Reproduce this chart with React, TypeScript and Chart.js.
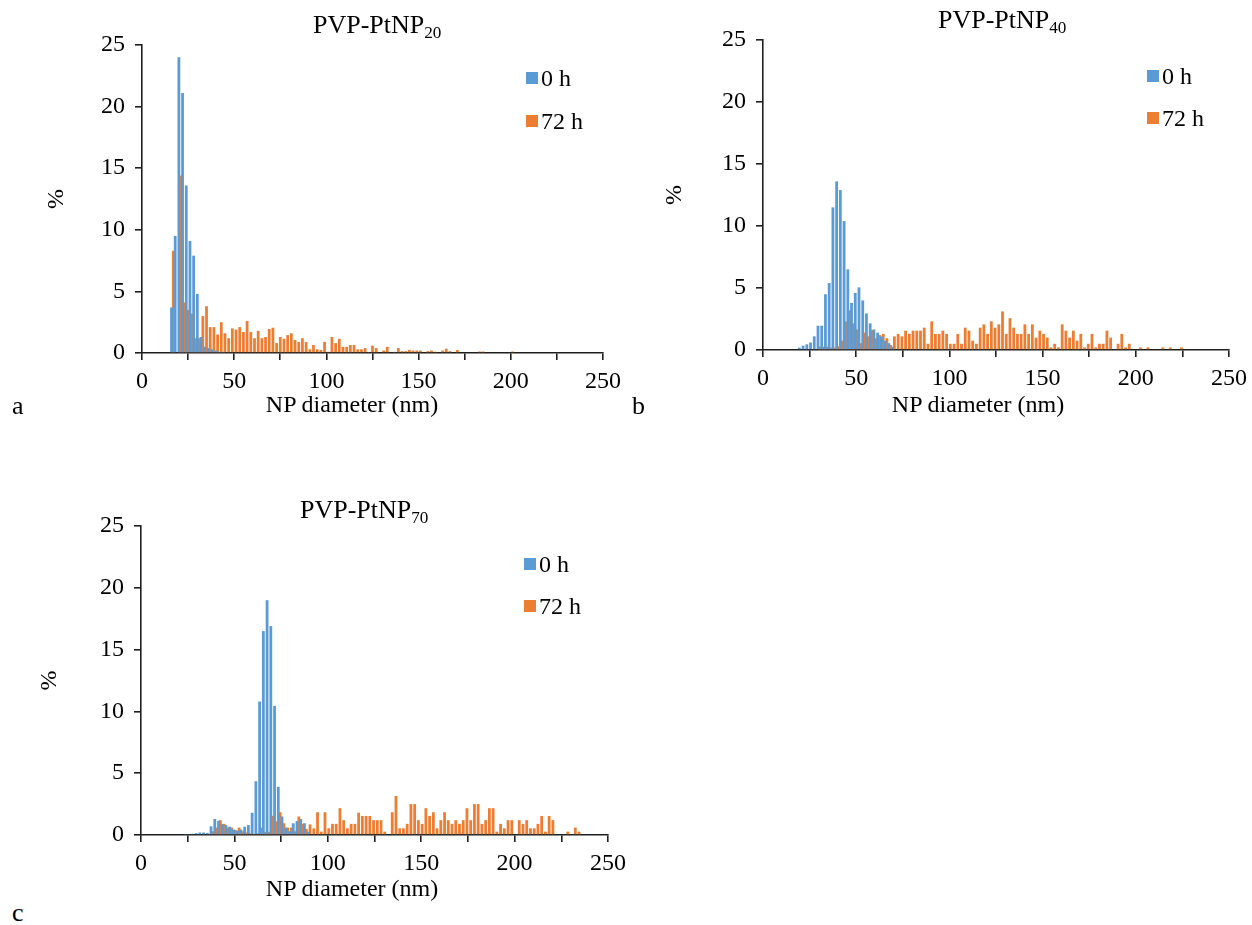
import React, { useEffect, useRef } from "react";
import { Chart, registerables } from "chart.js";

Chart.register(...registerables);

const BLUE = "#5B9BD5";
const ORANGE = "#ED7D31";
const AXIS = "#1f1f1f";
const FONT = "'Liberation Serif', 'Times New Roman', serif";

// ---------- Panel a : PVP-PtNP20 ----------
const binsA = [
  16.5, 18.5, 20.5, 22.5, 24.5, 26.5, 28.5, 30.5, 32.5, 34.5,
  36.5, 38.5, 40.5, 42.5, 44.5, 46.5, 48.5, 50.5, 52.5, 54.5,
  56.5, 58.5, 60.5, 62.5, 64.5, 66.5, 68.5, 70.5, 72.5, 74.5,
  76.5, 78.5, 80.5, 82.5, 84.5, 86.5, 88.5, 90.5, 92.5, 94.5,
  96.5, 98.5, 100.5, 102.5, 104.5, 106.5, 108.5, 110.5, 112.5, 114.5,
  116.5, 118.5, 120.5, 122.5, 124.5, 126.5, 128.5, 130.5, 132.5, 134.5,
  136.5, 138.5, 140.5, 142.5, 144.5, 146.5, 148.5, 150.5, 152.5, 154.5,
  156.5, 158.5, 160.5, 162.5, 164.5, 166.5, 168.5, 170.5, 172.5, 174.5,
  176.5, 178.5, 180.5, 182.5, 184.5, 186.5, 188.5, 190.5, 192.5, 194.5,
  196.5, 198.5, 200.5,
];
const zeroHA = [
  3.7, 9.5, 24.0, 21.1, 13.6, 9.1, 7.9, 4.8, 1.3, 0.5,
  0.4, 0.3, 0.2, 0.1, 0.1, 0, 0, 0, 0, 0,
  0, 0, 0, 0, 0, 0, 0, 0, 0, 0,
  0, 0, 0, 0, 0, 0, 0, 0, 0, 0,
  0, 0, 0, 0, 0, 0, 0, 0, 0, 0,
  0, 0, 0, 0, 0, 0, 0, 0, 0, 0,
  0, 0, 0, 0, 0, 0, 0, 0, 0, 0,
  0, 0, 0, 0, 0, 0, 0, 0, 0, 0,
  0, 0, 0, 0, 0, 0, 0, 0, 0, 0,
  0, 0, 0,
];
const h72A = [
  8.3, 0, 14.4, 4.1, 3.5, 3.2, 1.2, 1.2, 3.0, 3.8,
  2.1, 2.1, 1.5, 2.5, 1.6, 1.2, 2.0, 1.9, 2.1, 1.7,
  2.6, 1.7, 1.2, 1.8, 1.2, 1.3, 1.95, 2.05, 0.8, 1.3,
  1.15, 1.45, 1.6, 1.05, 0.9, 1.2, 0.9, 0.3, 0.65, 0.3,
  0.25, 0.9, 0.1, 1.3, 0.8, 1.15, 0.5, 0.5, 0.65, 0.65,
  0.3, 0.3, 0.4, 0.05, 0.6, 0.4, 0, 0.2, 0.5, 0,
  0.1, 0.4, 0.15, 0.15, 0.25, 0.2, 0.2, 0.2, 0, 0.15,
  0.2, 0.1, 0, 0.2, 0.35, 0.15, 0, 0.25, 0, 0,
  0, 0, 0, 0.12, 0.12, 0, 0, 0, 0, 0,
  0, 0, 0.12,
];

// ---------- Panel b : PVP-PtNP40 ----------
const binsB = [
  20, 22, 24, 26, 28, 30, 32, 34, 36, 38,
  40, 42, 44, 46, 48, 50, 52, 54, 56, 58,
  60, 62, 64, 66, 68, 70, 72, 74, 76, 78,
  80, 82, 84, 86, 88, 90, 92, 94, 96, 98,
  100, 102, 104, 106, 108, 110, 112, 114, 116, 118,
  120, 122, 124, 126, 128, 130, 132, 134, 136, 138,
  140, 142, 144, 146, 148, 150, 152, 154, 156, 158,
  160, 162, 164, 166, 168, 170, 172, 174, 176, 178,
  180, 182, 184, 186, 188, 190, 192, 194, 196, 198,
  200, 202, 204, 206, 208, 210, 212, 214, 216, 218,
  220, 222, 224,
];
const zeroHB = [
  0.19, 0.35, 0.46, 0.6, 1.1, 1.96, 1.96, 4.5, 5.4, 11.5,
  13.6, 12.9, 10.4, 6.5, 3.8, 4.6, 5.05, 4.0, 2.95, 2.15,
  1.66, 1.4, 1.1, 0.75, 0.55, 0.27, 0, 0, 0, 0,
  0, 0, 0, 0, 0, 0, 0, 0, 0, 0,
  0, 0, 0, 0, 0, 0, 0, 0, 0, 0,
  0, 0, 0, 0, 0, 0, 0, 0, 0, 0,
  0, 0, 0, 0, 0, 0, 0, 0, 0, 0,
  0, 0, 0, 0, 0, 0, 0, 0, 0, 0,
  0, 0, 0, 0, 0, 0, 0, 0, 0, 0,
  0, 0, 0, 0, 0, 0, 0, 0, 0, 0,
  0, 0, 0,
];
const h72B = [
  0, 0, 0, 0, 0, 0.27, 0.27, 0.27, 0.2, 0.2,
  0.3, 0.75, 2.3, 3.2, 2.15, 1.66, 0.55, 1.4, 1.1, 1.6,
  0.95, 1.2, 1.3, 0.95, 0.4, 1.1, 1.3, 1.1, 1.56, 1.3,
  1.56, 1.56, 1.56, 1.8, 0.5, 2.31, 1.3, 1.3, 1.56, 1.3,
  0.5, 0.5, 1.3, 0.5, 1.8, 1.56, 0.75, 0.5, 1.8, 2.07,
  1.3, 2.31, 1.8, 2.07, 3.11, 1.3, 2.57, 1.8, 1.3, 1.3,
  2.07, 1.3, 2.07, 1.0, 1.56, 1.3, 1.0, 0.21, 0.5, 0.21,
  2.07, 1.56, 1.0, 1.56, 0.75, 1.3, 0.21, 0.5, 1.3, 0.21,
  0.5, 0.5, 1.56, 1.0, 0, 0.5, 1.3, 0.21, 0.5, 0,
  0, 0.21, 0, 0.21, 0, 0, 0, 0.21, 0, 0.21,
  0, 0, 0.21,
];

// ---------- Panel c : PVP-PtNP70 ----------
const binsC = [
  24, 26, 28, 30, 32, 34, 36, 38, 40, 42,
  44, 46, 48, 50, 52, 54, 56, 58, 60, 62,
  64, 66, 68, 70, 72, 74, 76, 78, 80, 82,
  84, 86, 88, 90, 92, 94, 96, 98, 100, 102,
  104, 106, 108, 110, 112, 114, 116, 118, 120, 122,
  124, 126, 128, 130, 132, 134, 136, 138, 140, 142,
  144, 146, 148, 150, 152, 154, 156, 158, 160, 162,
  164, 166, 168, 170, 172, 174, 176, 178, 180, 182,
  184, 186, 188, 190, 192, 194, 196, 198, 200, 202,
  204, 206, 208, 210, 212, 214, 216, 218, 220, 222,
  224, 226, 228, 230, 232, 234,
];
const zeroHC = [
  0.05, 0.05, 0.1, 0.15, 0.2, 0.2, 0.17, 0.7, 1.3, 1.15,
  0.88, 0.8, 0.67, 0.45, 0.35, 0.45, 0.67, 0.8, 1.8, 4.35,
  10.8, 16.5, 19.0, 16.9, 10.45, 3.9, 1.5, 0.6, 0.3, 0.95,
  1.13, 1.3, 0.95, 0.27, 0, 0, 0, 0, 0, 0,
  0, 0, 0, 0, 0, 0, 0, 0, 0, 0,
  0, 0, 0, 0, 0, 0, 0, 0, 0, 0,
  0, 0, 0, 0, 0, 0, 0, 0, 0, 0,
  0, 0, 0, 0, 0, 0, 0, 0, 0, 0,
  0, 0, 0, 0, 0, 0, 0, 0, 0, 0,
  0, 0, 0, 0, 0, 0, 0, 0, 0, 0,
  0, 0, 0, 0, 0, 0,
];
const h72C = [
  0, 0, 0, 0, 0, 0, 0.1, 0.3, 0.6, 1.2,
  0.9, 0.6, 0.6, 0.4, 0.6, 0.3, 0.2, 0.15, 0.1, 0.15,
  0.6, 0.25, 0.25, 1.55, 1.1, 1.84, 0.95, 0.6, 0.6, 0.3,
  1.5, 0.9, 0.5, 0.86, 0.54, 1.84, 0.27, 1.84, 0.54, 0.9,
  0.9, 2.17, 1.2, 0.54, 0.9, 0.9, 1.8, 1.54, 1.54, 1.54,
  1.2, 1.2, 1.2, 0.27, 0, 1.84, 3.16, 0.54, 0.54, 0.9,
  2.5, 2.5, 1.2, 0.9, 2.17, 1.54, 1.84, 0.54, 1.2, 1.84,
  1.2, 0.9, 1.2, 0.9, 1.2, 2.17, 1.2, 2.5, 2.5, 0.9,
  1.2, 2.17, 2.17, 0.27, 0.9, 0.54, 1.2, 1.2, 0, 1.2,
  0.9, 1.2, 0.54, 0.54, 0.9, 1.54, 0.27, 1.54, 1.2, 0,
  0, 0, 0.27, 0, 0.6, 0.27,
];

const xTickValues = [0, 50, 100, 150, 200, 250];
const seriesNames = ["0 h", "72 h"];

type PanelDef = {
  bins: number[];
  zero: number[];
  h72: number[];
  left: number;
  top: number;
  width: number;
  height: number;
  padTop: number;
  padRight: number;
  yAxisWidth: number;
  xAxisHeight: number;
  yTitlePad: number;
};

const panels: PanelDef[] = [
  { bins: binsA, zero: zeroHA, h72: h72A, left: 30, top: 20, width: 602, height: 381, padTop: 25, padRight: 29, yAxisWidth: 112, xAxisHeight: 48, yTitlePad: 12 },
  { bins: binsB, zero: zeroHB, h72: h72B, left: 650, top: 15, width: 602, height: 383, padTop: 25, padRight: 23, yAxisWidth: 113, xAxisHeight: 48, yTitlePad: 10 },
  { bins: binsC, zero: zeroHC, h72: h72C, left: 30, top: 501, width: 602, height: 382, padTop: 25, padRight: 24, yAxisWidth: 111, xAxisHeight: 48, yTitlePad: 5 },
];

function buildConfig(p: PanelDef): any {
  const tickFont = { family: FONT, size: 24 };
  const fixScale = (s: any, horizontal: boolean, size: number) => {
    if (horizontal) s.height = size;
    else s.width = size;
    s.paddingTop = 0;
    s.paddingBottom = 0;
    s.paddingLeft = 0;
    s.paddingRight = 0;
  };
  // Excel-like clustered columns with overlapping series
  const barStyle = { borderWidth: 0, categoryPercentage: 1.0, barPercentage: 1.5, inflateAmount: 0 };
  return {
    type: "bar",
    data: {
      datasets: [
        {
          label: seriesNames[0],
          data: p.bins.map((x, i) => ({ x, y: p.zero[i] })),
          backgroundColor: BLUE,
          ...barStyle,
        },
        {
          label: seriesNames[1],
          data: p.bins.map((x, i) => ({ x, y: p.h72[i] })),
          backgroundColor: ORANGE,
          ...barStyle,
        },
      ],
    },
    options: {
      responsive: false,
      maintainAspectRatio: false,
      animation: false,
      devicePixelRatio: 1,
      events: [],
      layout: { padding: { left: 0, top: p.padTop, right: p.padRight, bottom: 0 } },
      plugins: { legend: { display: false }, title: { display: false }, tooltip: { enabled: false } },
      scales: {
        x: {
          type: "linear",
          min: 0,
          max: 250,
          offset: false,
          afterBuildTicks: (s: any) => {
            const t: any[] = [];
            for (const v of xTickValues) {
              t.push({ value: v });
              if (v < 250) t.push({ value: v + 25 });
            }
            s.ticks = t;
          },
          ticks: {
            autoSkip: false,
            maxRotation: 0,
            font: tickFont,
            color: "#000",
            padding: 7,
            callback: (v: any) => (xTickValues.includes(Number(v)) ? String(v) : ""),
          },
          grid: { display: true, drawOnChartArea: false, drawTicks: true, tickLength: 7, color: AXIS, lineWidth: 1.6, tickWidth: 1.6, offset: false },
          border: { display: true, color: AXIS, width: 1.6 },
          afterFit: (s: any) => fixScale(s, true, p.xAxisHeight),
        },
        y: {
          min: 0,
          max: 25,
          ticks: { stepSize: 5, font: tickFont, color: "#000", padding: 10 },
          grid: { display: true, drawOnChartArea: false, drawTicks: true, tickLength: 7, color: AXIS, lineWidth: 1.6, tickWidth: 1.6 },
          border: { display: true, color: AXIS, width: 1.6 },
          title: { display: true, text: "%", font: { family: FONT, size: 24 }, color: "#000", padding: { top: p.yTitlePad, bottom: 0 } },
          afterFit: (s: any) => fixScale(s, false, p.yAxisWidth),
        },
      },
    },
  };
}

function PanelChart({ p }: { p: PanelDef }) {
  const ref = useRef<HTMLCanvasElement | null>(null);
  useEffect(() => {
    if (!ref.current) return;
    const chart = new Chart(ref.current, buildConfig(p));
    return () => chart.destroy();
  }, [p]);
  return (
    <canvas
      ref={ref}
      width={p.width}
      height={p.height}
      style={{ position: "absolute", left: p.left, top: p.top, width: p.width, height: p.height }}
    />
  );
}

const textBase: React.CSSProperties = {
  position: "absolute",
  fontFamily: FONT,
  fontSize: 24,
  lineHeight: 1,
  color: "#000",
  whiteSpace: "nowrap",
};

function Title({ x, y, sub }: { x: number; y: number; sub: string }) {
  return (
    <div style={{ ...textBase, fontSize: 26, left: x, top: y, transform: "translateY(-50%)" }}>
      PVP-PtNP<sub style={{ fontSize: "0.66em", verticalAlign: "-0.3em" }}>{sub}</sub>
    </div>
  );
}

function Legend({ x, y, gap }: { x: number; y: number; gap: number }) {
  const colors = [BLUE, ORANGE];
  return (
    <>
      {seriesNames.map((name, i) => (
        <div key={name} style={{ ...textBase, left: x, top: y + i * gap, transform: "translateY(-50%)", display: "flex", alignItems: "center" }}>
          <span style={{ display: "inline-block", width: 12, height: 12, background: colors[i], marginRight: 3 }} />
          <span>{name}</span>
        </div>
      ))}
    </>
  );
}

function XLabel({ x, y }: { x: number; y: number }) {
  return <div style={{ ...textBase, left: x, top: y, transform: "translate(-50%, -50%)" }}>NP diameter (nm)</div>;
}

function Letter({ x, y, t }: { x: number; y: number; t: string }) {
  return <div style={{ ...textBase, fontSize: 26, left: x, top: y, transform: "translateY(-50%)" }}>{t}</div>;
}

export default function App() {
  return (
    <div style={{ position: "absolute", left: 0, top: 0, width: 1252, height: 925, overflow: "hidden", background: "#fff" }}>
      {panels.map((p, i) => (
        <PanelChart key={i} p={p} />
      ))}
      <Title x={313} y={27} sub="20" />
      <Title x={938} y={22} sub="40" />
      <Title x={300} y={512} sub="70" />
      <Legend x={526} y={78} gap={43} />
      <Legend x={1147} y={76} gap={42} />
      <Legend x={524} y={564} gap={42} />
      <XLabel x={352} y={404} />
      <XLabel x={978} y={404} />
      <XLabel x={352} y={888} />
      <Letter x={12} y={406} t="a" />
      <Letter x={632} y={406} t="b" />
      <Letter x={12} y={913} t="c" />
    </div>
  );
}
